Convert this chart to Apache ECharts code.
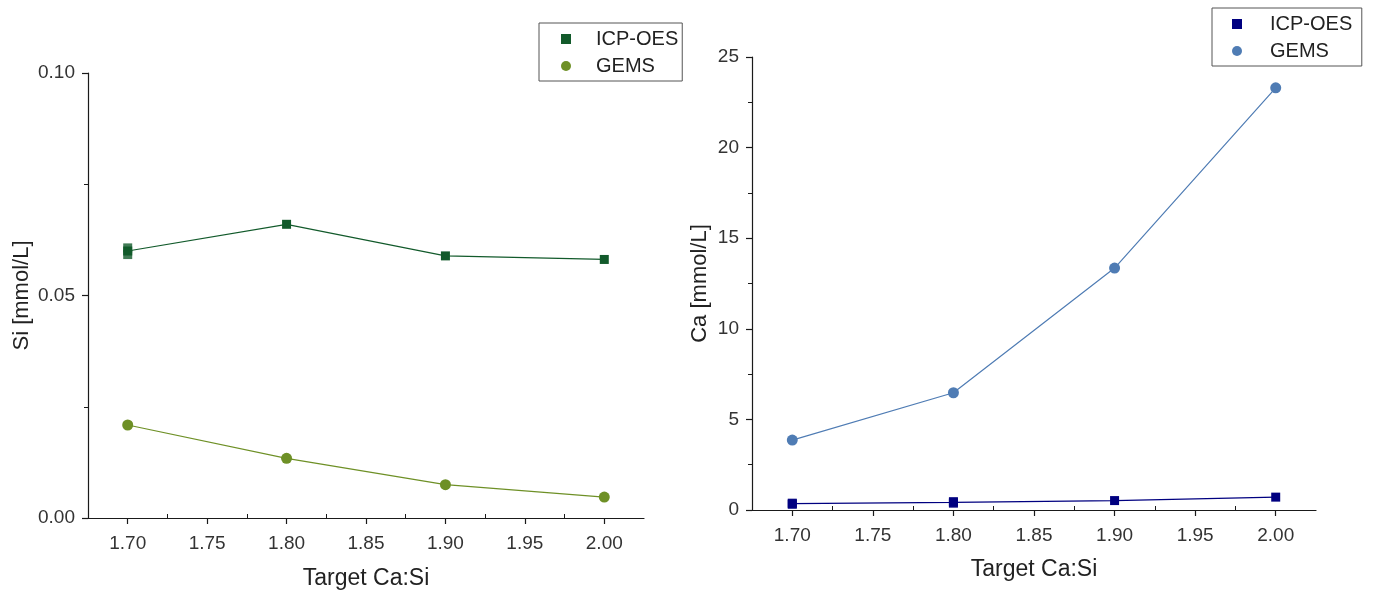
<!DOCTYPE html>
<html>
<head>
<meta charset="utf-8">
<script src="https://cdn.jsdelivr.net/npm/echarts@6/dist/echarts.min.js"></script>
<style>
html,body{margin:0;padding:0;background:#fff;}
#chart{width:1373px;height:590px;}
</style>
</head>
<body>
<div id="chart"></div>
<script>
// ---- data ----
const caSi = [1.70, 1.80, 1.90, 2.00];
const xMajorTicks = [1.70, 1.75, 1.80, 1.85, 1.90, 1.95, 2.00];
const xMinorTicks = [1.725, 1.775, 1.825, 1.875, 1.925, 1.975];
const seriesNames = ['ICP-OES', 'GEMS'];

// Left panel: Si [mmol/L]
const siIcp = [0.0600, 0.0660, 0.0589, 0.0581];
const siIcpRepX = [1.70, 1.70];
const siIcpRepY = [0.0607, 0.0592];
const siGems = [0.0209, 0.0134, 0.0075, 0.0047];

// Right panel: Ca [mmol/L]
const caIcp = [0.35, 0.42, 0.52, 0.71];
const caIcpRepX = [1.70, 1.70, 1.80, 1.80];
const caIcpRepY = [0.38, 0.31, 0.47, 0.37];
const caGems = [3.86, 6.47, 13.35, 23.3];

const zip = (xs, ys) => xs.map((x, i) => [x, ys[i]]);

const FONT = 'Liberation Sans, Arial, sans-serif';
const AX = '#1a1a1a';
const C = {
  siIcp: '#125a2b', siGems: '#6e9026',
  caIcp: '#000080', caGems: '#4f7cb4'
};

function xAxes(gridIndex, gap) {
  return [{
    type: 'value', gridIndex, min: 1.675, max: 2.025,
    name: 'Target Ca:Si', nameLocation: 'middle', nameGap: gap,
    nameTextStyle: {fontFamily: FONT, fontSize: 23, color: '#222'},
    axisLine: {show: true, onZero: false, lineStyle: {color: AX, width: 1.2}},
    axisTick: {show: true, customValues: xMajorTicks, length: 6, lineStyle: {color: AX, width: 1.2}},
    axisLabel: {show: true, customValues: xMajorTicks, margin: 16, fontFamily: FONT, fontSize: 19, color: '#333',
      formatter: v => v.toFixed(2)},
    splitLine: {show: false}
  }, {
    type: 'value', gridIndex, min: 1.675, max: 2.025,
    axisLine: {show: false},
    axisTick: {show: true, customValues: xMinorTicks, length: 4, lineStyle: {color: AX, width: 1}},
    axisLabel: {show: false},
    splitLine: {show: false}
  }];
}

function yAxis(gridIndex, max, interval, name, gap, fmt) {
  return {
    type: 'value', gridIndex, min: 0, max, interval,
    name, nameLocation: 'middle', nameGap: gap,
    nameTextStyle: {fontFamily: FONT, fontSize: 22, color: '#222'},
    axisLine: {show: true, onZero: false, lineStyle: {color: AX, width: 1.2}},
    axisTick: {show: true, length: 6, lineStyle: {color: AX, width: 1.2}},
    minorTick: {show: true, splitNumber: 2, length: 4, lineStyle: {color: AX, width: 1}},
    axisLabel: {margin: 13, fontFamily: FONT, fontSize: 19, color: '#333', formatter: fmt},
    splitLine: {show: false}, minorSplitLine: {show: false}
  };
}

function lineSeries(name, xi, yi, data, color, symbol, size) {
  return {
    name, type: 'line', xAxisIndex: xi, yAxisIndex: yi, data,
    symbol, symbolSize: size, showSymbol: true,
    itemStyle: {color}, lineStyle: {color, width: 1.2},
    animation: false, z: 3
  };
}

function repSeries(name, xi, yi, data, color) {
  return {
    name, type: 'scatter', xAxisIndex: xi, yAxisIndex: yi, data,
    symbol: 'rect', symbolSize: 9, itemStyle: {color}, animation: false, z: 4
  };
}

function legend(left, top, names, padLeft, textPad) {
  return {
    show: true, orient: 'vertical', left, top,
    data: [{name: names[0], icon: 'rect'}, {name: names[1], icon: 'circle'}],
    itemWidth: 10, itemHeight: 10, itemGap: 5,
    padding: [5, 4, 4, padLeft],
    borderColor: '#555', borderWidth: 1, backgroundColor: '#fff',
    textStyle: {fontFamily: FONT, fontSize: 20, color: '#222', lineHeight: 22, padding: [0, 0, 0, textPad]},
    selectedMode: false
  };
}

const chart = echarts.init(document.getElementById('chart'), null, {renderer: 'canvas'});

const option = {
  backgroundColor: '#fff',
  animation: false,
  grid: [
    {left: 88, width: 556, top: 73, height: 445, containLabel: false, outerBoundsMode: 'none'},
    {left: 752, width: 564, top: 57, height: 453, containLabel: false, outerBoundsMode: 'none'}
  ],
  legend: [
    legend(539, 23, seriesNames, 22, 20),
    legend(1212, 8, seriesNames.map(n => n + ' '), 20, 23)
  ],
  xAxis: [...xAxes(0, 49), ...xAxes(1, 48)],
  yAxis: [
    yAxis(0, 0.10, 0.05, 'Si [mmol/L]', 55, v => v.toFixed(2)),
    yAxis(1, 25, 5, 'Ca [mmol/L]', 41, v => String(v))
  ],
  series: [
    lineSeries(seriesNames[0], 0, 0, zip(caSi, siIcp), C.siIcp, 'rect', 9),
    repSeries('ICP-OES replicates (Si)', 0, 0, zip(siIcpRepX, siIcpRepY), C.siIcp),
    lineSeries(seriesNames[1], 0, 0, zip(caSi, siGems), C.siGems, 'circle', 11),
    lineSeries(seriesNames[0] + ' ', 2, 1, zip(caSi, caIcp), C.caIcp, 'rect', 9),
    repSeries('ICP-OES replicates (Ca)', 2, 1, zip(caIcpRepX, caIcpRepY), C.caIcp),
    lineSeries(seriesNames[1] + ' ', 2, 1, zip(caSi, caGems), C.caGems, 'circle', 11)
  ]
};
chart.setOption(option);
</script>
</body>
</html>
